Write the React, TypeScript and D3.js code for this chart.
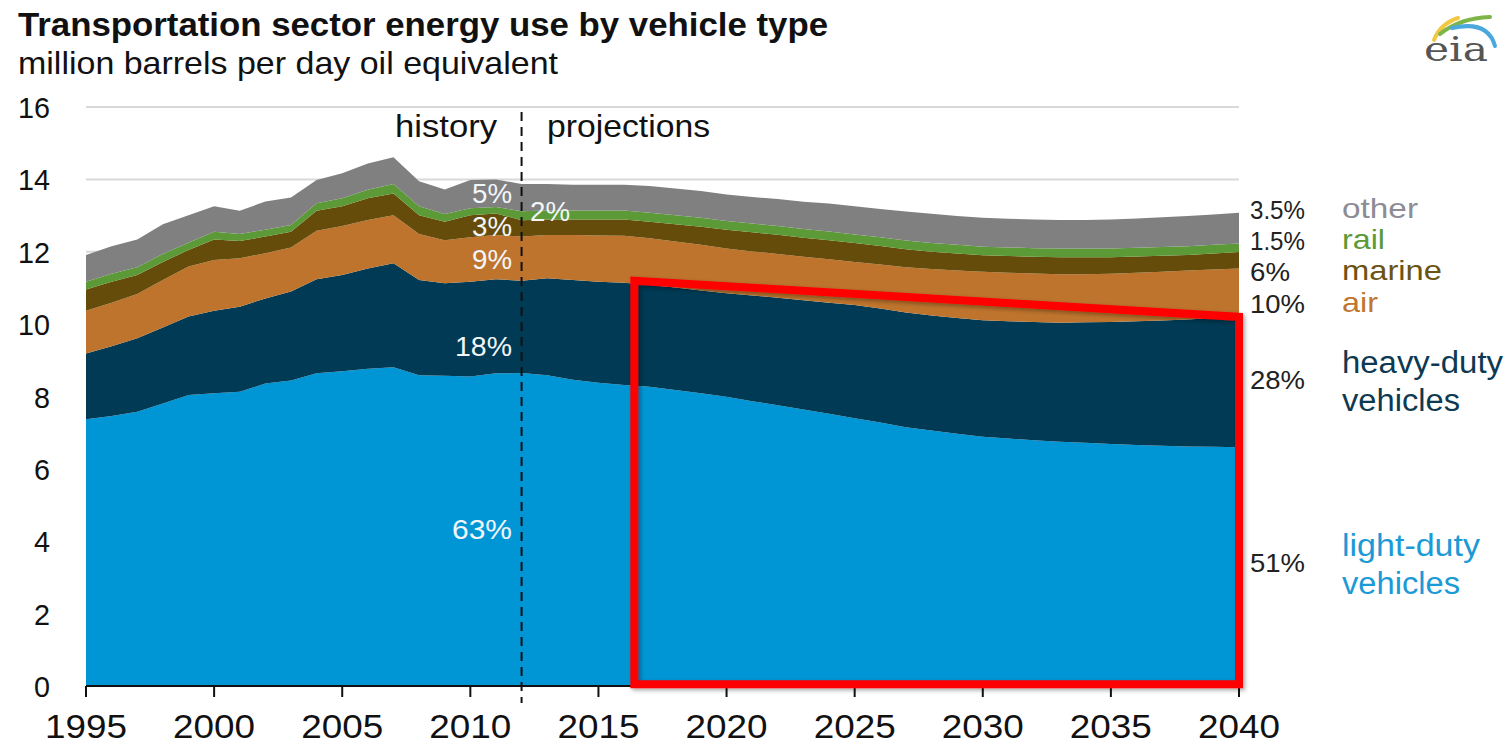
import React from "react";
import * as d3 from "d3";

const years = [
  1995, 1996, 1997, 1998, 1999, 2000, 2001, 2002, 2003, 2004, 2005, 2006, 2007, 2008, 2009, 2010, 2011,
  2012, 2013, 2014, 2015, 2016, 2017, 2018, 2019, 2020, 2021, 2022, 2023, 2024, 2025, 2026, 2027, 2028,
  2029, 2030, 2031, 2032, 2033, 2034, 2035, 2036, 2037, 2038, 2039, 2040,
];

const lightDuty = [
  7.37, 7.46, 7.58, 7.81, 8.04, 8.09, 8.13, 8.36, 8.44, 8.64, 8.7, 8.77, 8.81, 8.59, 8.57, 8.55, 8.64,
  8.65, 8.59, 8.46, 8.38, 8.32, 8.27, 8.18, 8.09, 7.99, 7.87, 7.76, 7.64, 7.52, 7.4, 7.28, 7.15, 7.06,
  6.97, 6.89, 6.84, 6.79, 6.75, 6.72, 6.69, 6.66, 6.64, 6.62, 6.61, 6.6,
];
const heavyDuty = [
  1.82, 1.93, 2.03, 2.1, 2.17, 2.28, 2.35, 2.35, 2.46, 2.6, 2.66, 2.77, 2.87, 2.63, 2.56, 2.62, 2.6,
  2.55, 2.68, 2.76, 2.79, 2.82, 2.81, 2.83, 2.84, 2.86, 2.92, 2.97, 3.02, 3.07, 3.13, 3.15, 3.17, 3.18,
  3.2, 3.22, 3.24, 3.27, 3.29, 3.33, 3.37, 3.42, 3.46, 3.51, 3.56, 3.6,
];
const air = [
  1.18, 1.2, 1.22, 1.31, 1.38, 1.4, 1.34, 1.25, 1.22, 1.34, 1.35, 1.34, 1.33, 1.27, 1.19, 1.23, 1.22,
  1.22, 1.19, 1.24, 1.28, 1.3, 1.29, 1.27, 1.26, 1.24, 1.22, 1.21, 1.2, 1.2, 1.19, 1.22, 1.25, 1.28,
  1.31, 1.34, 1.34, 1.34, 1.34, 1.33, 1.33, 1.34, 1.35, 1.35, 1.34, 1.34,
];
const marine = [
  0.59, 0.58, 0.53, 0.5, 0.46, 0.57, 0.48, 0.46, 0.43, 0.55, 0.55, 0.6, 0.6, 0.52, 0.51, 0.61, 0.6,
  0.45, 0.43, 0.43, 0.44, 0.45, 0.46, 0.48, 0.5, 0.52, 0.53, 0.53, 0.53, 0.53, 0.52, 0.51, 0.5, 0.48,
  0.47, 0.45, 0.46, 0.46, 0.47, 0.47, 0.46, 0.45, 0.44, 0.43, 0.44, 0.45,
];
const rail = [
  0.21, 0.22, 0.21, 0.22, 0.2, 0.21, 0.19, 0.19, 0.19, 0.21, 0.22, 0.23, 0.26, 0.25, 0.21, 0.19, 0.18,
  0.25, 0.25, 0.25, 0.25, 0.25, 0.25, 0.25, 0.25, 0.24, 0.24, 0.24, 0.24, 0.24, 0.24, 0.24, 0.24, 0.24,
  0.24, 0.24, 0.24, 0.24, 0.24, 0.24, 0.24, 0.24, 0.24, 0.24, 0.24, 0.24,
];
const other = [
  0.74, 0.76, 0.77, 0.82, 0.76, 0.71, 0.64, 0.78, 0.76, 0.64, 0.69, 0.73, 0.74, 0.69, 0.68, 0.78, 0.76,
  0.75, 0.73, 0.71, 0.71, 0.71, 0.74, 0.74, 0.74, 0.73, 0.73, 0.75, 0.75, 0.77, 0.78, 0.78, 0.8, 0.81,
  0.8, 0.8, 0.79, 0.79, 0.79, 0.79, 0.8, 0.81, 0.82, 0.84, 0.84, 0.85,
];

const seriesKeys = ["light", "heavy", "air", "marine", "rail", "other"];
const seriesColors = ["#0096D6", "#003A54", "#BE742D", "#654C0B", "#5B9A37", "#808080"];

const xTicks = [1995, 2000, 2005, 2010, 2015, 2020, 2025, 2030, 2035, 2040];
const yTicks = [0, 2, 4, 6, 8, 10, 12, 14, 16];
const projectionStart = 2012;

// Highlight box corners (year, value)
const boxYears = [2016.4, 2040, 2040, 2016.4];
const boxValues = [11.2, 10.2, 0.05, 0.05];

const rightPct = ["3.5%", "1.5%", "6%", "10%", "28%", "51%"];

const FONT = "'Liberation Sans Narrow', 'Arial Narrow', 'Liberation Sans', Arial, sans-serif";

export default function App() {
  const W = 1509;
  const H = 748;
  const x = d3.scaleLinear().domain([1995, 2040]).range([86, 1239]);
  const y = d3.scaleLinear().domain([0, 16]).range([686, 107]);

  const table = years.map((yr, i) => ({
    year: yr,
    light: lightDuty[i],
    heavy: heavyDuty[i],
    air: air[i],
    marine: marine[i],
    rail: rail[i],
    other: other[i],
  }));
  const stacked = d3.stack<any>().keys(seriesKeys)(table);
  const area = d3
    .area<any>()
    .x((d) => x(d.data.year))
    .y0((d) => y(d[0]))
    .y1((d) => y(d[1]))
    .curve(d3.curveLinear);

  const boxPts = boxYears.map((yr, i) => [x(yr), y(boxValues[i])] as [number, number]);
  const boxPath = d3.line()(boxPts) + "Z";

  const T = (props: any) => (
    <text fontFamily={FONT} lengthAdjust="spacingAndGlyphs" {...props} />
  );

  const pctBaselines = [219, 250, 281, 313, 389, 572];
  const pctWidths = [55, 55, 40, 55, 55, 55];

  return (
    <div style={{ position: "absolute", left: 0, top: 0, width: W, height: H, background: "#fff" }}>
      <svg width={W} height={H} style={{ display: "block" }}>
        <defs>
          <filter id="shadow" x="-5%" y="-5%" width="110%" height="110%">
            <feDropShadow dx="2" dy="2" stdDeviation="2" floodColor="#000" floodOpacity="0.35" />
          </filter>
        </defs>
        {/* title */}
        <T x={18} y={36} fontSize={34} fontWeight="bold" fill="#111" textLength={810}>
          Transportation sector energy use by vehicle type
        </T>
        <T x={18} y={74} fontSize={32} fill="#111" textLength={540}>
          million barrels per day oil equivalent
        </T>

        {/* eia logo */}
        <g>
          <path d="M1434,40 Q1440,24 1458,18" fill="none" stroke="#F2C744" strokeWidth={4} strokeLinecap="round" />
          <path d="M1440,34 Q1460,18 1490,17" fill="none" stroke="#7DB548" strokeWidth={4} strokeLinecap="round" />
          <path d="M1452,28 Q1488,20 1495,46" fill="none" stroke="#4AA8DD" strokeWidth={4} strokeLinecap="round" />
          <text x={1424} y={61} fontFamily="'DejaVu Serif', 'Liberation Serif', serif" fontSize={34} fill="#555" textLength={64} lengthAdjust="spacingAndGlyphs">
            eia
          </text>
        </g>

        {/* gridlines */}
        {yTicks.filter((t) => t > 0).map((t) => (
          <line key={t} x1={86} x2={1239} y1={y(t)} y2={y(t)} stroke="#D9D9D9" strokeWidth={2} />
        ))}

        {/* areas */}
        {stacked.map((s, i) => (
          <path key={s.key} d={area(s) as string} fill={seriesColors[i]} />
        ))}

        {/* y tick labels */}
        {yTicks.map((t) => (
          <T key={t} x={50} y={y(t) + 11} fontSize={30} fill="#111" textAnchor="end" textLength={t >= 10 ? 32 : 16}>
            {t}
          </T>
        ))}

        {/* x axis */}
        <line x1={86} x2={1239} y1={686} y2={686} stroke="#111" strokeWidth={2} />
        {xTicks.map((t) => (
          <g key={t}>
            <line x1={x(t)} x2={x(t)} y1={686} y2={697} stroke="#111" strokeWidth={2} />
            <T x={x(t)} y={738} fontSize={34} fill="#111" textAnchor="middle" textLength={82}>
              {t}
            </T>
          </g>
        ))}

        {/* projection divider */}
        <line
          x1={x(projectionStart)}
          x2={x(projectionStart)}
          y1={112}
          y2={703}
          stroke="#111"
          strokeWidth={2}
          strokeDasharray="9,6"
        />
        <T x={395} y={137} fontSize={32} fill="#111" textLength={102}>history</T>
        <T x={547} y={137} fontSize={32} fill="#111" textLength={163}>projections</T>

        {/* in-chart labels */}
        <T x={512} y={203} textAnchor="end" textLength={40} fill="#F2F6FA" fontSize={28}>5%</T>
        <T x={512} y={236} textAnchor="end" textLength={40} fill="#F2F6FA" fontSize={28}>3%</T>
        <T x={512} y={269} textAnchor="end" textLength={40} fill="#F2F6FA" fontSize={28}>9%</T>
        <T x={512} y={356} textAnchor="end" textLength={57} fill="#F2F6FA" fontSize={28}>18%</T>
        <T x={512} y={539} textAnchor="end" textLength={60} fill="#F2F6FA" fontSize={28}>63%</T>
        <T x={530} y={221} textLength={40} fill="#F2F6FA" fontSize={28}>2%</T>

        {/* right labels */}
        {rightPct.map((p, i) => (
          <T key={p} x={1250} y={pctBaselines[i]} fontSize={26} fill="#222" textLength={pctWidths[i]}>
            {p}
          </T>
        ))}
        <T x={1342} y={218} fontSize={28} fill="#8C8C94" textLength={76}>other</T>
        <T x={1342} y={249} fontSize={28} fill="#5B9A37" textLength={43}>rail</T>
        <T x={1342} y={280} fontSize={28} fill="#6B5313" textLength={100}>marine</T>
        <T x={1342} y={312} fontSize={28} fill="#C0762F" textLength={36}>air</T>
        <T x={1342} y={373} fontSize={31} fill="#0D3A52" textLength={161}>heavy-duty</T>
        <T x={1342} y={411} fontSize={31} fill="#0D3A52" textLength={118}>vehicles</T>
        <T x={1342} y={556} fontSize={31} fill="#1B9AD6" textLength={138}>light-duty</T>
        <T x={1342} y={594} fontSize={31} fill="#1B9AD6" textLength={118}>vehicles</T>

        {/* highlight box */}
        <path d={boxPath} fill="none" stroke="#FF0000" strokeWidth={8} strokeLinejoin="miter" filter="url(#shadow)" />
      </svg>
    </div>
  );
}
